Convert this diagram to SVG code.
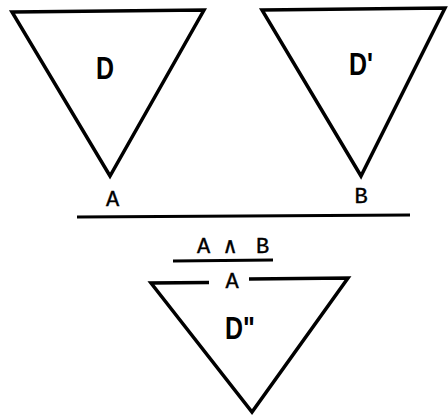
<svg xmlns="http://www.w3.org/2000/svg" width="448" height="415" viewBox="0 0 448 415">
<style>
.tri{fill:none;stroke:#000;stroke-width:3.5;stroke-linejoin:miter}
.ln{stroke:#000;stroke-width:3;fill:none}
.big{font-family:"Liberation Sans",Arial,sans-serif;font-weight:bold;font-size:32px;fill:#000}
.mono{font-family:"Liberation Mono","Courier New",monospace;font-size:22px;fill:#000;stroke:#000;stroke-width:0.4;text-anchor:middle}
</style>
<rect width="448" height="415" fill="#fff"/>
<g id="D">
<polygon class="tri" points="12,12 204,10 110,176"/>
<text class="big" transform="translate(96,79) scale(0.78,1)">D</text>
<text class="mono" x="112.5" y="206">A</text>
</g>
<g id="Dprime">
<polygon class="tri" points="262,10 445,8 361,176"/>
<text class="big" transform="translate(349,75) scale(0.78,1)">D'</text>
<text class="mono" x="361" y="203">B</text>
</g>
<g id="connectors">
<line class="ln" x1="77" y1="217" x2="410" y2="215"/>
<line class="ln" x1="173" y1="261" x2="273" y2="260"/>
</g>
<g id="meet">
<text class="mono" x="203.5" y="253">A</text>
<text class="mono" x="230" y="253">∧</text>
<text class="mono" x="262.5" y="253">B</text>
</g>
<g id="Ddouble">
<polyline class="tri" points="209,282.5 151,283 252,412 348,278 249,279" stroke-width="4"/>
<text class="mono" x="232" y="288">A</text>
<text class="big" transform="translate(225,339) scale(0.78,1)">D"</text>
</g>
</svg>
